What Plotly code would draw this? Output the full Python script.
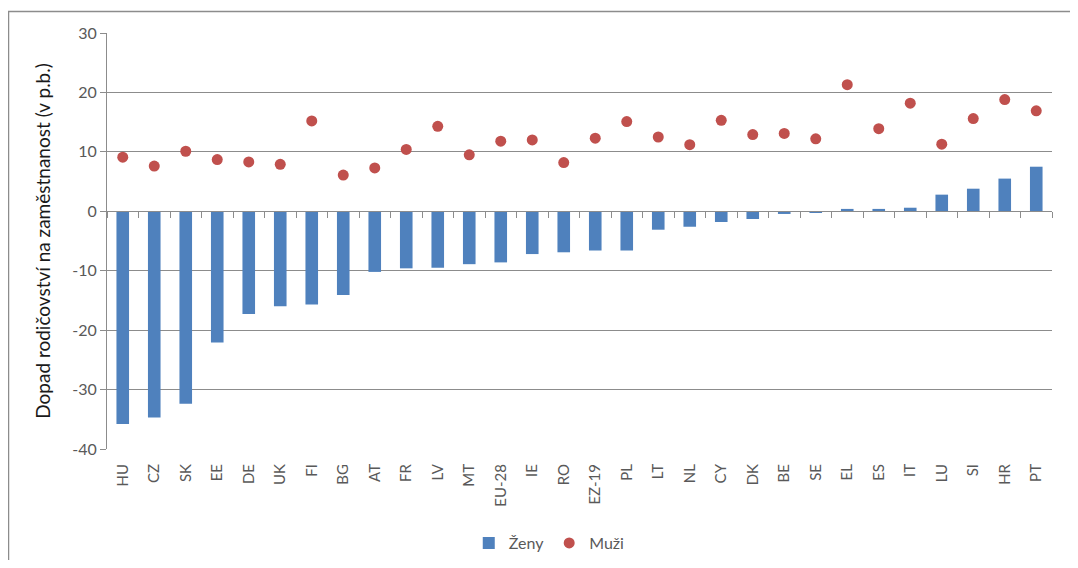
import plotly.graph_objects as go

categories = ["HU", "CZ", "SK", "EE", "DE", "UK", "FI", "BG", "AT", "FR", "LV", "MT", "EU-28", "IE",
              "RO", "EZ-19", "PL", "LT", "NL", "CY", "DK", "BE", "SE", "EL", "ES", "IT", "LU", "SI", "HR", "PT"]
zeny = [-35.8, -34.7, -32.4, -22.1, -17.3, -16.0, -15.7, -14.1, -10.2, -9.6, -9.5, -8.9, -8.6, -7.2,
        -6.9, -6.6, -6.6, -3.1, -2.6, -1.8, -1.3, -0.45, -0.2, 0.4, 0.4, 0.6, 2.8, 3.8, 5.5, 7.5]
muzi = [9.1, 7.6, 10.1, 8.7, 8.3, 7.9, 15.2, 6.1, 7.3, 10.4, 14.3, 9.5, 11.8, 12.0,
        8.2, 12.3, 15.1, 12.5, 11.2, 15.3, 12.9, 13.1, 12.2, 21.3, 13.9, 18.2, 11.3, 15.6, 18.8, 16.9]
y_ticks = [-40, -30, -20, -10, 0, 10, 20, 30]
y_title = "Dopad rodičovství na zaměstnanost (v p.b.)"

# page body has an 8px margin; figure coordinates are offset by it
OFF = 8
W, H = 1078 - 2 * OFF, 568 - 2 * OFF
L, R, T, B = 107 - OFF, 1052 - OFF, 33 - OFF, 449 - OFF
FONT = "Lato, 'Open Sans', sans-serif"
GRID = "#8c8c8c"
TXT = "#595959"

fig = go.Figure()
fig.add_trace(go.Bar(x=categories, y=zeny, name="Ženy", marker=dict(color="#4F81BD", line=dict(width=0)),
                     width=0.4))
fig.add_trace(go.Scatter(x=categories, y=muzi, name="Muži", mode="markers",
                         marker=dict(color="#C0504D", size=11, line=dict(width=0))))
# invisible trace for the axis drawn at zero
fig.add_trace(go.Scatter(x=categories, y=[0] * len(categories), xaxis="x2", mode="markers",
                         marker=dict(opacity=0), showlegend=False, hoverinfo="skip"))

ymin, ymax = y_ticks[0], y_ticks[-1]
fig.update_layout(
    width=W, height=H,
    margin=dict(l=L, r=W - R, t=T, b=H - B, autoexpand=False),
    paper_bgcolor="white", plot_bgcolor="white",
    font=dict(family=FONT, color=TXT, size=12),
    showlegend=True,
    legend=dict(orientation="h", x=0.468, xanchor="center", y=(B - (543 - OFF)) / (B - T), yanchor="middle",
                font=dict(size=16, color=TXT), itemwidth=30, tracegroupgap=0),
    bargap=0.6,
    xaxis=dict(type="category", categoryorder="array", categoryarray=categories,
               range=[-0.5, len(categories) - 0.5], automargin=False,
               showgrid=False, showline=False, ticks="", tickangle=-90,
               tickfont=dict(size=15, color=TXT), ticklabelstandoff=11, zeroline=False),
    xaxis2=dict(type="category", categoryorder="array", categoryarray=categories,
                range=[-0.5, len(categories) - 0.5], overlaying="x", anchor="free",
                position=(0 - ymin) / (ymax - ymin), side="bottom", automargin=False,
                showline=True, linecolor=GRID, linewidth=1,
                ticks="outside", tickson="boundaries", ticklen=6, tickcolor=GRID,
                showticklabels=False, showgrid=False, zeroline=False),
    yaxis=dict(range=[ymin, ymax], tickvals=y_ticks, ticktext=[str(v) for v in y_ticks],
               automargin=False,
               showgrid=True, gridcolor=GRID, gridwidth=1,
               zeroline=False, showline=True, linecolor=GRID, linewidth=1,
               ticks="outside", ticklen=6, tickcolor=GRID,
               tickfont=dict(size=16, color=TXT),
               title=dict(text=y_title, font=dict(size=19, color="#1a1a1a"), standoff=16)),
)

# outer chart border (left and top edges visible in the reference)
px = lambda v: (v - OFF - L) / (R - L)
py = lambda v: (B - (v - OFF)) / (B - T)
fig.add_shape(type="rect", xref="paper", yref="paper",
              x0=px(8.5), x1=px(1100), y0=py(11.5), y1=py(600),
              line=dict(color="#8c8c8c", width=1.5), fillcolor="rgba(0,0,0,0)", layer="below")

fig.write_html("out.html")
